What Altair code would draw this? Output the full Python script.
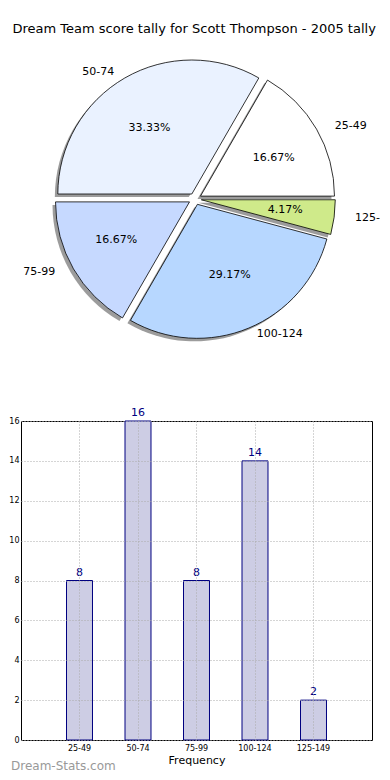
import math
import altair as alt
import pandas as pd

FONT = "DejaVu Sans"

labels = ["25-49", "50-74", "75-99", "100-124", "125-149"]
counts = [8, 16, 8, 14, 2]
pie_colors = ["#ffffff", "#eaf2ff", "#c6d9ff", "#b7d7ff", "#cfea8a"]
y_ticks = [0, 2, 4, 6, 8, 10, 12, 14, 16]
title_text = "Dream Team score tally for Scott Thompson - 2005 tally"
x_title = "Frequency"
watermark = "Dream-Stats.com"

total = sum(counts)
df = pd.DataFrame({"label": labels, "count": counts, "order": list(range(len(labels)))})

# ---- layout constants (pixels) ----
BAR_W = 351
BAR_H = 319
PIE_W = 359
PIE_H = 377
PIE_CX = 174          # pie centre inside pie panel (x)
PIE_CY = 155          # pie centre inside pie panel (y)
PX_X = 141            # pixels per unit (x)
PX_Y = 128            # pixels per unit (y)
R = 134
EXPLODE = 0.045

xs = alt.Scale(domain=[-PIE_CX / PX_X, (PIE_W - PIE_CX) / PX_X], nice=False, zero=False)
ys = alt.Scale(domain=[(PIE_CY - PIE_H) / PX_Y, PIE_CY / PX_Y], nice=False, zero=False)
ts = alt.Scale(domain=[0, total], range=[math.pi / 2 + 2 * math.pi, math.pi / 2])

pie_base = (
    alt.Chart(df)
    .transform_window(cum="sum(count)", sort=[alt.SortField("order")], frame=[None, 0])
    .transform_joinaggregate(total="sum(count)")
    .transform_calculate(
        start="datum.cum - datum.count",
        mid="2*PI*(datum.cum - datum.count/2)/datum.total",
    )
    .transform_calculate(
        cx=f"{EXPLODE}*cos(datum.mid)",
        cy=f"{EXPLODE}*sin(datum.mid)",
    )
    .transform_calculate(
        lx="datum.cx + 1.1*cos(datum.mid)",
        ly="datum.cy + 1.1*sin(datum.mid)",
        px="datum.cx + 0.6*cos(datum.mid)",
        py="datum.cy + 0.6*sin(datum.mid)",
        pct="format(100*datum.count/datum.total, '.2f') + '%'",
        side="cos(datum.mid) > 0 ? 'r' : 'l'",
    )
)

arc_enc = dict(
    x=alt.X("cx:Q", scale=xs, axis=None),
    y=alt.Y("cy:Q", scale=ys, axis=None),
    theta=alt.Theta("start:Q", scale=ts, stack=None),
    theta2=alt.Theta2("cum:Q"),
)

shadow = pie_base.mark_arc(radius=R, xOffset=-3, yOffset=3, fill="#3a3a3a", opacity=0.5).encode(**arc_enc)
slices = pie_base.mark_arc(radius=R, stroke="black", strokeWidth=0.8).encode(
    color=alt.Color("label:N", scale=alt.Scale(domain=labels, range=pie_colors), legend=None),
    **arc_enc,
)
pct_text = pie_base.mark_text(font=FONT, fontSize=11, color="black", align="center", baseline="middle").encode(
    x=alt.X("px:Q", scale=xs, axis=None), y=alt.Y("py:Q", scale=ys, axis=None), text="pct:N"
)
lab_r = pie_base.transform_filter("datum.side == 'r'").mark_text(
    font=FONT, fontSize=11, color="black", align="left", baseline="middle", clip=True
).encode(x=alt.X("lx:Q", scale=xs, axis=None), y=alt.Y("ly:Q", scale=ys, axis=None), text="label:N")
lab_l = pie_base.transform_filter("datum.side == 'l'").mark_text(
    font=FONT, fontSize=11, color="black", align="right", baseline="middle", clip=True
).encode(x=alt.X("lx:Q", scale=xs, axis=None), y=alt.Y("ly:Q", scale=ys, axis=None), text="label:N")

pie = alt.layer(shadow, slices, pct_text, lab_r, lab_l).properties(
    width=PIE_W, height=PIE_H, view=alt.ViewBackground(strokeWidth=0, stroke="transparent")
)

# ---- bar chart ----
grid_axis = dict(
    grid=True, gridColor="#aaaaaa", gridDash=[1, 2], gridWidth=1, ticks=False, domain=False,
    labelFont=FONT, labelFontSize=8, labelColor="black", zindex=1, labelOverlap=False,
)
bx = alt.X(
    "label:N", sort=labels, scale=alt.Scale(paddingInner=0.556, paddingOuter=0.778),
    axis=alt.Axis(title=x_title, labelAngle=0, labelPadding=4, titleFont=FONT, titleFontSize=11,
                  titleFontWeight="normal", titleColor="black", titlePadding=2, **grid_axis),
)
by = alt.Y(
    "count:Q", scale=alt.Scale(domain=[0, 16], nice=False),
    axis=alt.Axis(title=None, values=y_ticks, labelPadding=2, **grid_axis),
)
bars = alt.Chart(df).mark_bar(fill="#cdcde4", stroke="#000080", strokeWidth=1).encode(x=bx, y=by)
bar_text = bars.mark_text(font=FONT, fontSize=11, color="#000080", dy=-8, baseline="middle").encode(
    text="count:Q"
)
wm = alt.Chart(pd.DataFrame({"t": [watermark]})).mark_text(
    font=FONT, fontSize=12, color="#999999", align="left", baseline="middle"
).encode(x=alt.value(-10), y=alt.value(345), text="t:N")

bar = alt.layer(bars, bar_text, wm).properties(
    width=BAR_W, height=BAR_H, view=alt.ViewBackground(stroke="black", strokeWidth=1)
)

chart = (
    alt.vconcat(pie, bar, spacing=0, bounds="flush")
    .properties(
        title=alt.TitleParams(title_text, font=FONT, fontSize=13, fontWeight="normal", color="black",
                              anchor="middle", offset=8),
        padding={"left": 0, "top": 15, "right": 0, "bottom": 0},
    )
    .configure_view(stroke="transparent")
    .configure(background="white")
)

chart.save("out.html", embed_options={"renderer": "svg", "actions": False})
